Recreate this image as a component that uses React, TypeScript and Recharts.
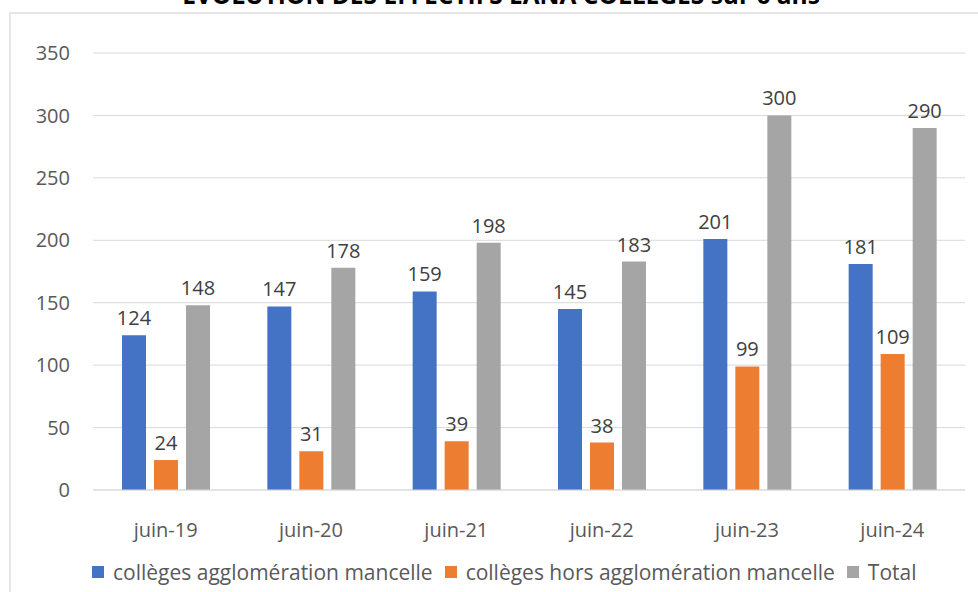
import React from 'react';
import { BarChart, Bar, XAxis, YAxis, CartesianGrid, LabelList } from 'recharts';

const categories = ['juin-19', 'juin-20', 'juin-21', 'juin-22', 'juin-23', 'juin-24'];
const agglo = [124, 147, 159, 145, 201, 181];
const horsAgglo = [24, 31, 39, 38, 99, 109];
const total = [148, 178, 198, 183, 300, 290];
const yTicks = [0, 50, 100, 150, 200, 250, 300, 350];

const seriesList = [
  { key: 'agglo', name: 'collèges agglomération mancelle', color: '#4472C4' },
  { key: 'hors', name: 'collèges hors agglomération mancelle', color: '#ED7D31' },
  { key: 'total', name: 'Total', color: '#A5A5A5' }
];

const data = categories.map((c, i) => ({
  cat: c,
  agglo: agglo[i],
  hors: horsAgglo[i],
  total: total[i]
}));

const FONT = '"Open Sans", sans-serif';

export default function App() {
  return (
    <div style={{ position: 'absolute', left: 0, top: 0, width: 978, height: 592, overflow: 'hidden', background: '#fff', fontFamily: FONT }}>
      {/* frame */}
      <div style={{ position: 'absolute', left: 9, top: 12, width: 969, height: 2, background: '#e6e6e6' }} />
      <div style={{ position: 'absolute', left: 9, top: 12, width: 2, height: 580, background: '#e6e6e6' }} />
      {/* title, cut off by the top edge like in the source */}
      <div
        style={{
          position: 'absolute',
          left: 0,
          width: 1002,
          top: -17,
          textAlign: 'center',
          fontSize: 24.5,
          lineHeight: '24.5px',
          fontWeight: 700,
          color: '#000',
          whiteSpace: 'nowrap'
        }}
      >
        EVOLUTION DES EFFECTIFS EANA COLLEGES sur 6 ans
      </div>
      <BarChart
        width={978}
        height={592}
        data={data}
        margin={{ top: 53, right: 13, left: 0, bottom: 0 }}
        barSize={24}
        barGap={8}
        style={{ position: 'absolute', left: 0, top: 0 }}
      >
        <CartesianGrid vertical={false} stroke="#d9d9d9" />
        <XAxis
          dataKey="cat"
          height={102}
          axisLine={{ stroke: '#d9d9d9' }}
          tickLine={false}
          tickSize={0}
          tickMargin={33}
          tick={{ fill: '#595959', fontSize: 20, fontFamily: FONT }}
        />
        <YAxis
          width={93}
          domain={[0, 350]}
          ticks={yTicks}
          axisLine={false}
          tickLine={false}
          tickSize={0}
          tickMargin={23}
          tick={{ fill: '#595959', fontSize: 20, fontFamily: FONT }}
        />
        {seriesList.map(s => (
          <Bar key={s.key} dataKey={s.key} name={s.name} fill={s.color} isAnimationActive={false}>
            <LabelList
              dataKey={s.key}
              position="top"
              offset={10}
              fill="#404040"
              fontSize={20}
              fontFamily={FONT}
            />
          </Bar>
        ))}
      </BarChart>
      {/* legend */}
      <div style={{ position: 'absolute', left: 92, top: 558, display: 'flex', alignItems: 'center', fontSize: 21, color: '#595959', whiteSpace: 'nowrap' }}>
        {seriesList.map(s => (
          <div key={s.key} style={{ display: 'flex', alignItems: 'center', marginRight: 12 }}>
            <span style={{ display: 'inline-block', width: 12, height: 12, background: s.color, marginRight: 9 }} />
            <span>{s.name}</span>
          </div>
        ))}
      </div>
    </div>
  );
}
